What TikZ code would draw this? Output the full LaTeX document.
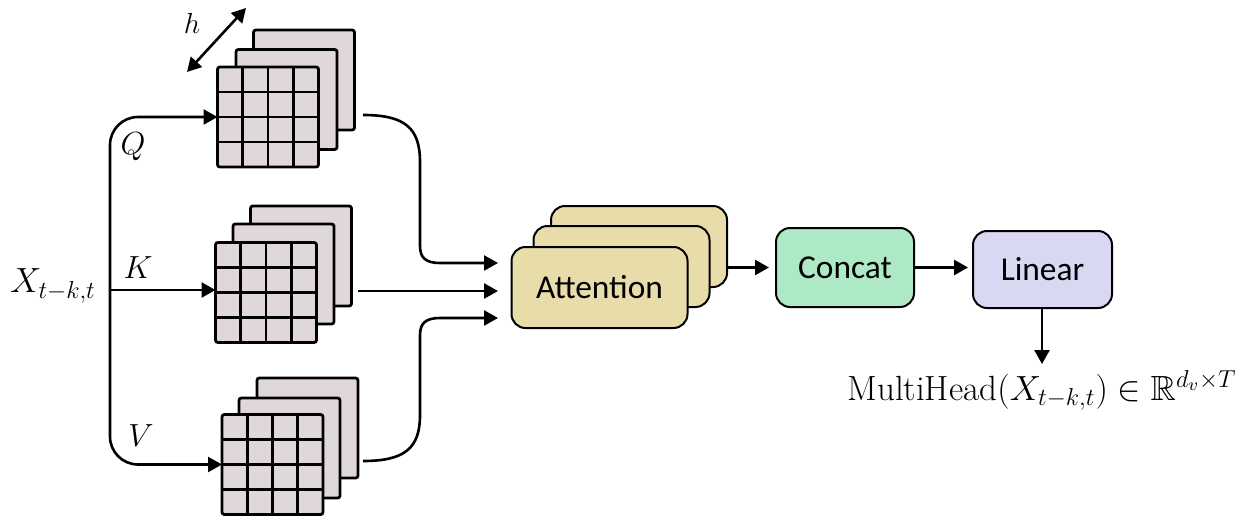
\RequirePackage{fix-cm}
\documentclass[tikz,border=0pt]{standalone}
\usepackage{amssymb}
\usepackage{fontspec}
\newfontfamily\boxfont{Carlito}
\usetikzlibrary{arrows.meta,calc}
\definecolor{gridfill}{HTML}{E0D7D9}
\definecolor{attfill}{HTML}{E7DCAA}
\definecolor{catfill}{HTML}{AEE9C6}
\definecolor{linfill}{HTML}{D8D8F2}
\begin{document}
\begin{tikzpicture}[x=0.5pt,y=-0.5pt,
  layer/.style={draw, fill=gridfill, line width=1.4pt, rounded corners=1.2pt,
    minimum width=50.5pt, minimum height=50pt, inner sep=0pt, outer sep=0pt},
  gl/.style={line width=1.4pt},
  arr/.style={line width=1.3pt, -{Triangle[length=7pt,width=7.5pt]}},
  dblarr/.style={line width=1.3pt, {Triangle[length=7pt,width=7.5pt]}-{Triangle[length=7pt,width=7.5pt]}},
  box/.style={draw, line width=1pt, rounded corners=7pt, inner sep=0pt, outer sep=0pt,
    font=\boxfont\fontsize{16.7}{20}\selectfont},
  attbox/.style={box, fill=attfill, minimum width=88pt, minimum height=40.5pt},
  lbl/.style={font=\fontsize{16}{19}\selectfont, inner sep=0pt},
]
\useasboundingbox (0,0) rectangle (1256,519);

% Q stack
\node[layer] (Qb) at (304,80) {};
\node[layer] (Qm) at (286.5,99.5) {};
\node[layer] (Qf) at (268,117) {};
% K stack
\node[layer] (Kb) at (301,256) {};
\node[layer] (Km) at (283.5,274) {};
\node[layer] (Kf) at (266,292.5) {};
% V stack
\node[layer] (Vb) at (307.5,428) {};
\node[layer] (Vm) at (289.5,448) {};
\node[layer] (Vf) at (272.5,464.5) {};

\foreach \n in {Qf,Kf,Vf} {
  \foreach \i in {1,2,3} {
    \draw[gl] ($(\n.north west)!\i/4!(\n.north east)$) -- ($(\n.south west)!\i/4!(\n.south east)$);
    \draw[gl] ($(\n.north west)!\i/4!(\n.south west)$) -- ($(\n.north east)!\i/4!(\n.south east)$);
  }
}

% h arrow
\coordinate (h1) at (187,72);
\coordinate (h2) at (246,8);
\draw[dblarr] (h1) -- (h2);
\node[lbl, font=\fontsize{14.5}{17}\selectfont] (hl) at (192,23) {$h$};

% input
\node[inner sep=0pt, font=\fontsize{17.5}{20}\selectfont] (X) at (53,286) {$X_{t-k,t}$};
\coordinate (split) at (110,290);
\draw[arr, rounded corners=14pt] (split) |- (Qf.west);
\draw[arr, rounded corners=14pt] (split) |- (Vf.west);
\draw[arr] (split) -- (split -| Kf.west);
\node[lbl] (Ql) at (133,147) {$Q$};
\node[lbl] (Kl) at (138,268) {$K$};
\node[lbl] (Vl) at (141,436) {$V$};

% attention
\node[attbox] (Ab) at (639,246.5) {};
\node[attbox] (Am) at (621.5,266.5) {};
\node[attbox] (Af) at (599.5,287.5) {Attention};

\coordinate (qo) at (363,115);
\coordinate (ko) at (358,291);
\coordinate (vo) at (363,461);
\coordinate (inQ) at (498,263);
\coordinate (inK) at (498,291);
\coordinate (inV) at (498,318);

\draw[arr] (qo) .. controls (405,115) and (420,128) .. (420,162) -- (420,246)
  .. controls (420,258) and (426,263) .. (440,263) -- (inQ);
\draw[arr] (ko) -- (inK);
\draw[arr] (vo) .. controls (405,461) and (420,448) .. (420,415) -- (420,335)
  .. controls (420,323) and (426,318) .. (440,318) -- (inV);

% concat, linear
\node[box, fill=catfill, minimum width=69pt, minimum height=39.5pt] (Cc) at (845,267.5) {Concat};
\node[box, fill=linfill, minimum width=69.5pt, minimum height=38.5pt] (Ln) at (1042.5,269.5) {Linear};

\draw[arr, shorten >=3.5pt] (Ab.east |- Cc.west) -- (Cc.west);
\draw[arr, shorten >=2.5pt] (Cc.east) -- (Cc.east -| Ln.west);

\node[anchor=base, inner sep=0pt, font=\fontsize{17.5}{20}\selectfont] (mh) at (1042,400)
  {$\mathrm{MultiHead}(X_{t-k,t})\in\mathbb{R}^{d_v\times T}$};
\coordinate (outtip) at (1042,364);
\draw[arr] (Ln.south -| outtip) -- (outtip);
\end{tikzpicture}
\end{document}
